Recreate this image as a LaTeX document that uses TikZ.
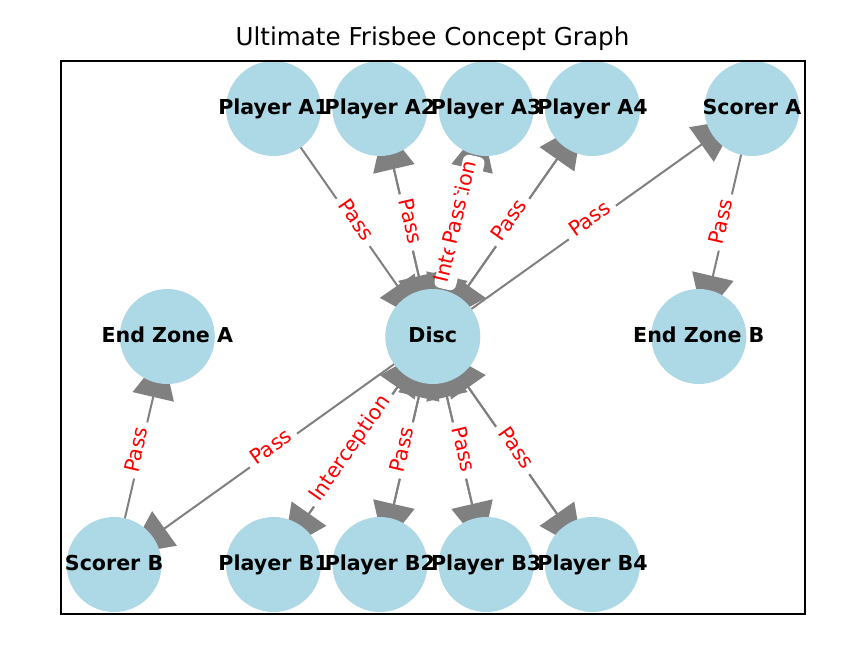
\documentclass[tikz,border=0pt]{standalone}
\usepackage{fontspec}
\setmainfont{DejaVu Sans}
\usetikzlibrary{arrows.meta}
\pgfdeclarelayer{edgelayer}
\pgfdeclarelayer{elabellayer}
\pgfdeclarelayer{toplayer}
\pgfsetlayers{edgelayer,elabellayer,main,toplayer}
\definecolor{nodeblue}{HTML}{ADD8E6}
\definecolor{edgegray}{HTML}{808080}
\tikzset{
  vertex/.style={circle, fill=nodeblue, minimum size=95pt, inner sep=0pt},
  vlabel/.style={font=\fontsize{20.6}{24}\selectfont\bfseries, anchor=base, inner sep=0pt},
  flow/.style={draw=edgegray, line width=2pt, -{Triangle[length=44pt,width=42pt]}, shorten >=18pt},
  elabel/.style={font=\fontsize{20.6}{24}\selectfont, text=red, fill=white, rounded corners=6pt,
                 inner sep=6pt, text height=0.76em, text depth=0.24em, sloped, midway},
  frame/.style={draw=black, line width=1.6pt}
}
\begin{document}
\begin{tikzpicture}[x=1pt,y=-1pt]
\useasboundingbox (0,0) rectangle (845,658);

% title
\node[font=\fontsize{24.6}{28}\selectfont, anchor=base, inner sep=0pt] (title) at (432.5,46) {Ultimate Frisbee Concept Graph};

% nodes
\node[vertex] (A1) at (273.5,108.5) {};
\node[vertex] (A2) at (379.9,108.5) {};
\node[vertex] (A3) at (486.2,108.5) {};
\node[vertex] (A4) at (592.5,108.5) {};
\node[vertex] (SA) at (751.9,108.5) {};
\node[vertex] (EZA) at (167.3,336.5) {};
\node[vertex] (D) at (432.8,336.5) {};
\node[vertex] (EZB) at (698.8,336.5) {};
\node[vertex] (SB) at (114.1,564.5) {};
\node[vertex] (B1) at (273.5,564.5) {};
\node[vertex] (B2) at (379.9,564.5) {};
\node[vertex] (B3) at (486.2,564.5) {};
\node[vertex] (B4) at (592.5,564.5) {};

% edges
\begin{pgfonlayer}{edgelayer}
\fill[white] (0,0) rectangle (845,658);
\draw[flow] (A1.center) -- (D.center);
\draw[flow] (A2.center) -- (D.center);
\draw[flow] (D.center) -- (A2.center);
\draw[flow] (A3.center) -- (D.center);
\draw[flow] (D.center) -- (A3.center);
\draw[flow] (A4.center) -- (D.center);
\draw[flow] (D.center) -- (A4.center);
\draw[flow] (D.center) -- (SA.center);
\draw[flow] (SA.center) -- (EZB.center);
\draw[flow] (D.center) -- (SB.center);
\draw[flow] (SB.center) -- (EZA.center);
\draw[flow] (D.center) -- (B1.center);
\draw[flow] (B1.center) -- (D.center);
\draw[flow] (D.center) -- (B2.center);
\draw[flow] (B2.center) -- (D.center);
\draw[flow] (D.center) -- (B3.center);
\draw[flow] (B3.center) -- (D.center);
\draw[flow] (D.center) -- (B4.center);
\draw[flow] (B4.center) -- (D.center);
\end{pgfonlayer}

% edge labels
\begin{pgfonlayer}{elabellayer}
\path (A1.center) -- node[elabel] (l1) {Pass} (D.center);
\path (A2.center) -- node[elabel] (l2) {Pass} (D.center);
\path (A3.center) -- node[elabel] (l3a) {Interception} (D.center);
\path (D.center) -- node[elabel] (l3b) {Pass} (A3.center);
\path (D.center) -- node[elabel] (l4) {Pass} (A4.center);
\path (D.center) -- node[elabel] (l5) {Pass} (SA.center);
\path (SA.center) -- node[elabel] (l6) {Pass} (EZB.center);
\path (D.center) -- node[elabel] (l7) {Pass} (SB.center);
\path (SB.center) -- node[elabel] (l8) {Pass} (EZA.center);
\path (D.center) -- node[elabel] (l9) {Interception} (B1.center);
\path (D.center) -- node[elabel] (l10) {Pass} (B2.center);
\path (D.center) -- node[elabel] (l11) {Pass} (B3.center);
\path (D.center) -- node[elabel] (l12) {Pass} (B4.center);
\end{pgfonlayer}

% node labels and frame
\begin{pgfonlayer}{toplayer}
\node[vlabel] (tA1) at ([yshift=-6pt]A1.center) {Player A1};
\node[vlabel] (tA2) at ([yshift=-6pt]A2.center) {Player A2};
\node[vlabel] (tA3) at ([yshift=-6pt]A3.center) {Player A3};
\node[vlabel] (tA4) at ([yshift=-6pt]A4.center) {Player A4};
\node[vlabel] (tSA) at ([yshift=-6pt]SA.center) {Scorer A};
\node[vlabel] (tEZA) at ([yshift=-6pt]EZA.center) {End Zone A};
\node[vlabel] (tD) at ([yshift=-6pt]D.center) {Disc};
\node[vlabel] (tEZB) at ([yshift=-6pt]EZB.center) {End Zone B};
\node[vlabel] (tSB) at ([yshift=-6pt]SB.center) {Scorer B};
\node[vlabel] (tB1) at ([yshift=-6pt]B1.center) {Player B1};
\node[vlabel] (tB2) at ([yshift=-6pt]B2.center) {Player B2};
\node[vlabel] (tB3) at ([yshift=-6pt]B3.center) {Player B3};
\node[vlabel] (tB4) at ([yshift=-6pt]B4.center) {Player B4};
\draw[frame] (61,61) rectangle (805,614);
\end{pgfonlayer}
\end{tikzpicture}
\end{document}
